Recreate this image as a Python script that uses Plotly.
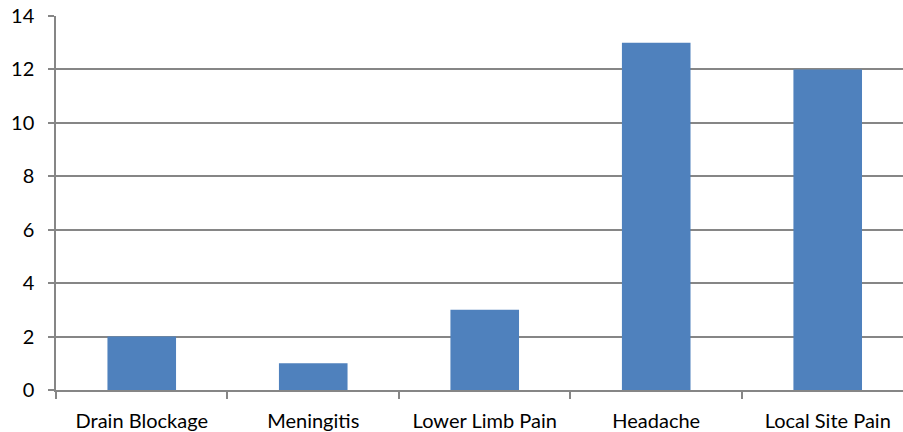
import plotly.graph_objects as go

categories = ["Drain Blockage", "Meningitis", "Lower Limb Pain", "Headache", "Local Site Pain"]
values = [2, 1, 3, 13, 12]
y_ticks = [0, 2, 4, 6, 8, 10, 12, 14]

fig = go.Figure(go.Bar(
    x=categories, y=values,
    marker=dict(color="#4F81BD", line=dict(width=0)),
    width=0.4,
))

fig.update_layout(
    width=903, height=432,
    margin=dict(l=56, r=0, t=16, b=42),
    paper_bgcolor="white", plot_bgcolor="white",
    font=dict(family="Lato, Carlito, sans-serif", size=20, color="#000000"),
    showlegend=False,
    bargap=0.6,
)
fig.update_xaxes(
    type="category", range=[-0.5, 4.439],
    showline=True, linecolor="#868686", linewidth=1.5,
    ticks="outside", tickson="boundaries", ticklen=7, tickcolor="#868686", tickwidth=1.5,
    showgrid=False, ticklabelstandoff=12, automargin=False,
    ticklabeloverflow="allow",
)
fig.update_yaxes(
    range=[0, 14], tickvals=y_ticks,
    showline=True, linecolor="#868686", linewidth=1.5,
    ticks="outside", ticklen=6, tickcolor="#868686", tickwidth=1.5,
    showgrid=True, gridcolor="#868686", gridwidth=1.5,
    zeroline=False, ticklabelstandoff=10, automargin=False,
    ticklabeloverflow="allow",
)

fig.write_html(
    "out.html",
    config={"displayModeBar": False},
    post_script="document.body.style.margin='0';",
)
